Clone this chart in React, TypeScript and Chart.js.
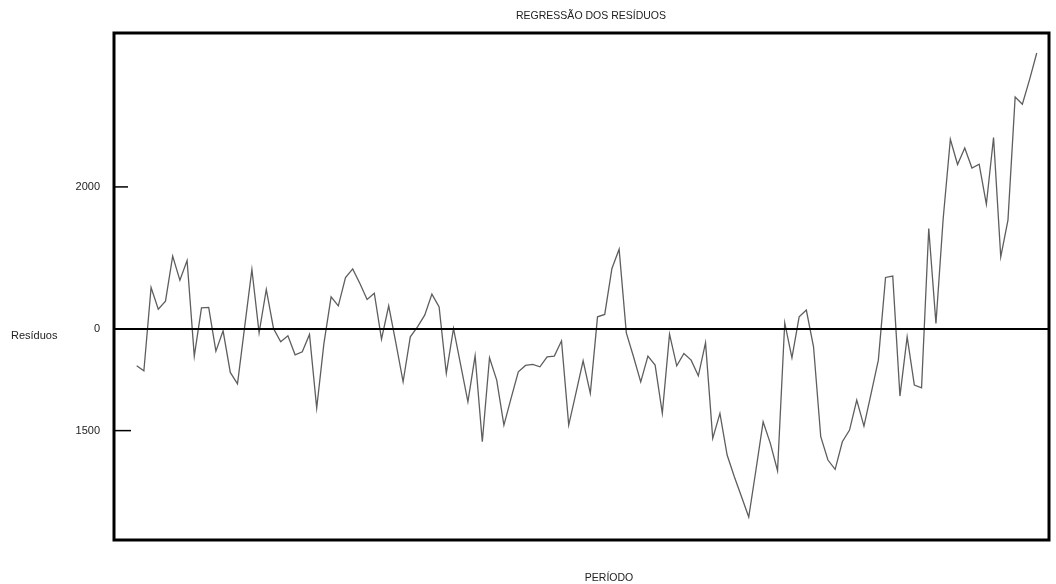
import React, { useEffect, useRef } from "react";
import { Chart, registerables } from "chart.js";

Chart.register(...registerables);

const chartTitle = "REGRESSÃO DOS RESÍDUOS";
const xAxisTitle = "PERÍODO";
const yAxisTitle = "Resíduos";

const residuals = [
  -510, -581, 589, 285, 397, 1028, 691, 968, -374, 303,
  309, -304, -20, -603, -763, 40, 842, -48, 561, 14,
  -174, -90, -356, -314, -70, -1104, -200, 457, 331, 729,
  850, 645, 421, 509, -136, 331, -192, -735, -104, 36,
  201, 495, 317, -617, 14, -501, -1015, -370, -1576, -398,
  -711, -1342, -964, -595, -505, -491, -525, -384, -374, -160,
  -1342, -893, -440, -898, 177, 210, 856, 1126, -48, -384,
  -735, -374, -501, -1178, -66, -510, -337, -431, -651, -188,
  -1529, -1178, -1763, -2067, -2348, -2632, -1973, -1296, -1599, -1983,
  93, -398, 177, 271, -244, -1506, -1833, -1964, -1576, -1412,
  -992, -1356, -898, -431, 729, 748, -935, -104, -781, -819,
  1417, 84, 1550, 2669, 2314, 2547, 2266, 2318, 1757, 2693,
  1018, 1533, 3262, 3160, 3506, 3879,
];

const periods = residuals.map((_, i) => i + 1);

const yTickValues = [2000, 0, -1420];
const yTickLabels = ["2000", "0", "1500"];
const yTickLengths = [14, 0, 17];

const X_MIN = -2.15;
const X_MAX = 127.7;
const Y_MIN = -2955;
const Y_MAX = 4160;

const decorPlugin = {
  id: "decor",
  afterDatasetsDraw(chart: any) {
    const { ctx, chartArea, scales } = chart;
    const { left, right, top, bottom } = chartArea;
    const y = scales.y;
    ctx.save();
    // zero line
    ctx.strokeStyle = "#000";
    ctx.lineWidth = 2;
    const y0 = Math.round(y.getPixelForValue(0)) + 0.0;
    ctx.beginPath();
    ctx.moveTo(left, y0);
    ctx.lineTo(right, y0);
    ctx.stroke();
    // tick marks
    ctx.lineWidth = 1.5;
    yTickValues.forEach((v, i) => {
      const len = yTickLengths[i];
      if (!len) return;
      const py = y.getPixelForValue(v);
      ctx.beginPath();
      ctx.moveTo(left, py);
      ctx.lineTo(left + len, py);
      ctx.stroke();
    });
    // frame
    ctx.lineWidth = 3;
    ctx.strokeRect(left, top, right - left, bottom - top);
    // tick labels
    ctx.fillStyle = "#222";
    ctx.font = "11px 'Liberation Sans', Arial, sans-serif";
    ctx.textAlign = "right";
    ctx.textBaseline = "middle";
    yTickValues.forEach((v, i) => {
      ctx.fillText(yTickLabels[i], 100, y.getPixelForValue(v));
    });
    // y axis title
    ctx.textAlign = "left";
    ctx.fillText(yAxisTitle, 11, y.getPixelForValue(0) + 7);
    // chart title
    ctx.font = "10.5px 'Liberation Sans', Arial, sans-serif";
    ctx.textAlign = "center";
    ctx.fillText(chartTitle, 591, 16);
    // x axis title
    ctx.fillText(xAxisTitle, 609, 578);
    ctx.restore();
  },
};

export default function App() {
  const canvasRef = useRef<HTMLCanvasElement | null>(null);

  useEffect(() => {
    document.body.style.margin = "0";
    const canvas = canvasRef.current;
    if (!canvas) return;
    const chart = new Chart(canvas, {
      type: "line",
      data: {
        datasets: [
          {
            data: periods.map((p, i) => ({ x: p, y: residuals[i] })),
            borderColor: "#5e5e5e",
            borderWidth: 1.3,
            pointRadius: 0,
            tension: 0,
            fill: false,
          },
        ],
      },
      options: {
        animation: false,
        responsive: false,
        devicePixelRatio: 1,
        layout: { padding: { left: 114, right: 7, top: 33, bottom: 44 } },
        plugins: {
          legend: { display: false },
          tooltip: { enabled: false },
          title: { display: false },
        },
        scales: {
          x: { type: "linear", min: X_MIN, max: X_MAX, display: false },
          y: { type: "linear", min: Y_MIN, max: Y_MAX, display: false },
        },
      },
      plugins: [decorPlugin],
    });
    return () => chart.destroy();
  }, []);

  return (
    <div style={{ position: "absolute", left: 0, top: 0, width: 1056, height: 584, background: "#fff" }}>
      <canvas ref={canvasRef} width={1056} height={584} />
    </div>
  );
}
